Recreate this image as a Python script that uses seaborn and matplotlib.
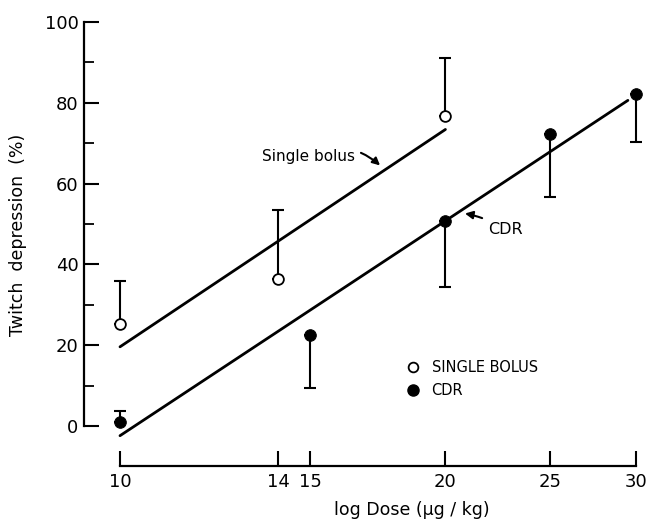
import numpy as np
import pandas as pd
import matplotlib
matplotlib.use("Agg")
import matplotlib.pyplot as plt
from matplotlib.lines import Line2D
from matplotlib.ticker import FixedLocator, NullLocator, FixedFormatter
import seaborn as sns

# data
bolus_dose = [10, 14, 20]
bolus_mean = [25.3, 36.5, 76.7]
bolus_err_up = [10.7, 17.0, 14.5]

cdr_dose = [10, 15, 20, 25, 30]
cdr_mean = [1.0, 22.5, 50.8, 72.2, 82.3]
cdr_err_up = [2.8, 0, 0, 0, 0]
cdr_err_down = [0, 13.0, 16.5, 15.5, 12.0]

# fitted regression lines (end points)
bolus_fit_x = [10, 20]
bolus_fit_y = [19.6, 73.4]
cdr_fit_x = [10, 29.5]
cdr_fit_y = [-2.4, 80.6]

x_ticks = [10, 14, 15, 20, 25, 30]
y_ticks = [0, 20, 40, 60, 80, 100]

sns.set_style("ticks", {"axes.edgecolor": "black", "xtick.color": "black",
                        "ytick.color": "black", "text.color": "black",
                        "axes.labelcolor": "black"})
plt.rcParams['font.family'] = ['DejaVu Sans']

fig = plt.figure(figsize=(6.5, 5.22), dpi=100)
ax = fig.add_axes([84 / 650, 1 - 466 / 522, (642 - 84) / 650, (466 - 20) / 522])

# regression lines
sns.lineplot(x=bolus_fit_x, y=bolus_fit_y, color="black", lw=2, ax=ax)
sns.lineplot(x=cdr_fit_x, y=cdr_fit_y, color="black", lw=2, ax=ax)

# error bars (one sided)
ax.errorbar(bolus_dose, bolus_mean, yerr=[np.zeros(3), bolus_err_up], fmt="none",
            ecolor="black", elinewidth=1.5, capsize=4.5, capthick=1.5)
ax.errorbar(cdr_dose, cdr_mean, yerr=[cdr_err_down, cdr_err_up], fmt="none",
            ecolor="black", elinewidth=1.5, capsize=4.5, capthick=1.5)

# points
sns.scatterplot(x=bolus_dose, y=bolus_mean, marker="o", s=60, facecolor="white",
                edgecolor="black", linewidth=1.3, zorder=5, ax=ax)
sns.scatterplot(x=cdr_dose, y=cdr_mean, marker="o", s=70, color="black",
                edgecolor="black", zorder=5, ax=ax)

ax.set_xscale("log")
ax.set_xlim(10 ** (1 - 36 / 1081), 10 ** (1 + 522 / 1081))
ax.set_ylim(-40 / 4.04, 100 + 2 / 4.04)

ax.xaxis.set_major_locator(FixedLocator(x_ticks))
ax.xaxis.set_major_formatter(FixedFormatter([str(t) for t in x_ticks]))
ax.xaxis.set_minor_locator(NullLocator())
ax.yaxis.set_major_locator(FixedLocator(y_ticks))
ax.yaxis.set_minor_locator(FixedLocator([10, 30, 50, 70, 90]))

ax.tick_params(axis="both", which="major", direction="in", length=11, width=1.5,
               labelsize=13, pad=4)
ax.tick_params(axis="y", which="minor", direction="in", length=7, width=1.3)
ax.tick_params(axis="x", which="major", pad=5)

sns.despine(ax=ax)
ax.spines["left"].set_bounds(0, 100)
ax.spines["bottom"].set_bounds(10, 30)
ax.spines["left"].set_linewidth(1.6)
ax.spines["bottom"].set_linewidth(1.6)

ax.set_xlabel("log Dose (\u03bcg / kg)", fontsize=12.5)
ax.set_ylabel("Twitch  depression  (%)", fontsize=12.5)
ax.xaxis.set_label_coords((412 - 84) / 558, -(510 - 466) / 446)
ax.yaxis.set_label_coords((18 - 84) / 558, (466 - 235) / 446)
ax.xaxis.label.set_verticalalignment("center")
ax.yaxis.label.set_verticalalignment("center")

# line labels
ax.annotate("Single bolus", xy=(17.4, 64.5), xytext=(16.5, 66.6), fontsize=11,
            ha="right", va="center",
            arrowprops=dict(arrowstyle="-|>", color="black", lw=1.5,
                            connectionstyle="arc3,rad=-0.35", shrinkA=2, shrinkB=0))
ax.annotate("CDR", xy=(20.85, 52.6), xytext=(21.9, 48.6), fontsize=11.5,
            ha="left", va="center",
            arrowprops=dict(arrowstyle="-|>", color="black", lw=1.5,
                            connectionstyle="arc3,rad=0.1", shrinkA=2, shrinkB=0))

handles = [
    Line2D([], [], marker="o", ls="", markerfacecolor="white", markeredgecolor="black",
           markersize=7, markeredgewidth=1.3, label="SINGLE BOLUS"),
    Line2D([], [], marker="o", ls="", color="black", markersize=8, label="CDR"),
]
fig.legend(handles=handles, loc="upper left", bbox_to_anchor=(398 / 650, 1 - 353 / 522),
           frameon=False, fontsize=10.5, handletextpad=0.8, labelspacing=0.55,
           handlelength=1.0, borderpad=0)

fig.savefig("out.png", dpi=100)
